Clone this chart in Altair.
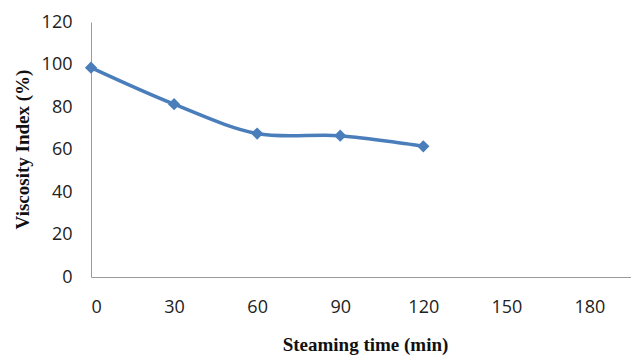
import altair as alt
import pandas as pd

time_min = [0, 30, 60, 90, 120]
viscosity_index = [98.5, 81.3, 67.5, 66.5, 61.5]
x_ticks = [0, 30, 60, 90, 120, 150, 180]
y_ticks = [0, 20, 40, 60, 80, 100, 120]

df = pd.DataFrame({"t": time_min, "v": viscosity_index})

color = "#4a7ebb"

x_enc = alt.X("t:Q", scale=alt.Scale(domain=[0, 195], nice=False),
              axis=alt.Axis(values=x_ticks, title="Steaming time (min)", grid=False, ticks=False,
                            domainColor="#9a9a9a", labelPadding=21, labelFontSize=18,
                            labelFont="Open Sans", labelColor="#222",
                            titleFont="Liberation Serif", titleFontSize=19, titleFontWeight="bold",
                            titleX=274, titleY=67, titleAlign="center", titleBaseline="middle",
                            titleColor="#111"))
y_enc = alt.Y("v:Q", scale=alt.Scale(domain=[0, 120], nice=False),
              axis=alt.Axis(values=y_ticks, title="Viscosity Index (%)", grid=False, ticks=False,
                            domainColor="#9a9a9a", labelPadding=19, labelFontSize=18,
                            labelFont="Open Sans", labelColor="#222",
                            titleFont="Liberation Serif", titleFontSize=19, titleFontWeight="bold",
                            titleX=-69, titleY=127, titleAlign="center", titleBaseline="middle",
                            titleColor="#111"))

line = alt.Chart(df).mark_line(color=color, strokeWidth=3.5, interpolate="cardinal").encode(x=x_enc, y=y_enc)
pts = alt.Chart(df).mark_point(shape="diamond", filled=True, color=color, opacity=1, size=150).encode(x="t:Q", y="v:Q")

chart = (line + pts).properties(
    width=540, height=255,
    autosize=alt.AutoSizeParams(type="none"),
    padding={"left": 91, "top": 22, "right": 0, "bottom": 78},
).configure_view(stroke=None)

chart.save("out.html", embed_options={"renderer": "svg", "actions": False})
